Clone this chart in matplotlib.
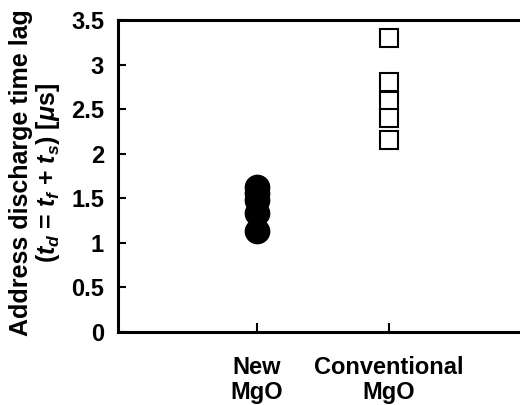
import matplotlib
matplotlib.use("Agg")
import matplotlib.pyplot as plt

plt.rcParams['font.family'] = ['Liberation Sans', 'DejaVu Sans']
plt.rcParams['font.weight'] = 'bold'
plt.rcParams['mathtext.fontset'] = 'custom'
plt.rcParams['mathtext.rm'] = 'Liberation Sans:bold'
plt.rcParams['mathtext.it'] = 'Liberation Sans:italic:bold'
plt.rcParams['mathtext.bf'] = 'Liberation Sans:bold'

# values (address discharge time lag, us)
categories = ["New\nMgO", "Conventional\nMgO"]
new_mgo = [1.63, 1.56, 1.48, 1.34, 1.13]
conventional_mgo = [3.30, 2.81, 2.59, 2.40, 2.15]
yticks = [0, 0.5, 1, 1.5, 2, 2.5, 3, 3.5]
ytick_labels = ["0", "0.5", "1", "1.5", "2", "2.5", "3", "3.5"]

fig = plt.figure(figsize=(5.2, 4.05), dpi=100)
ax = fig.add_axes([118/520, 73/405, 403/520, 312/405])

ax.plot([1]*len(new_mgo), new_mgo, 'o', color='black', markersize=17.5, linestyle='none')
ax.plot([2]*len(conventional_mgo), conventional_mgo, 's', markerfacecolor='white',
        markeredgecolor='black', markersize=13.5, markeredgewidth=1.5, linestyle='none')

ax.set_xlim(-0.053, 3.0)
ax.set_ylim(0, 3.5)
ax.set_xticks([1, 2])
ax.set_xticklabels(categories, fontsize=17, fontweight='bold', linespacing=1.12)
ax.set_yticks(yticks)
ax.set_yticklabels(ytick_labels, fontsize=17, fontweight='bold')

ax.tick_params(axis='y', direction='in', length=5.5, width=1.5, pad=10)
ax.tick_params(axis='x', direction='in', length=6.5, width=1.5, pad=17)

for side in ['left', 'top', 'bottom']:
    ax.spines[side].set_linewidth(2.2)
ax.spines['right'].set_visible(False)

ax.set_ylabel("Address discharge time lag\n($t_d$ = $t_f$ + $t_s$) [$\\mu$s]",
              fontsize=18, fontweight='bold', linespacing=1.05)
ax.yaxis.set_label_coords(-0.14, 0.51)

fig.savefig("out.png", dpi=100)
